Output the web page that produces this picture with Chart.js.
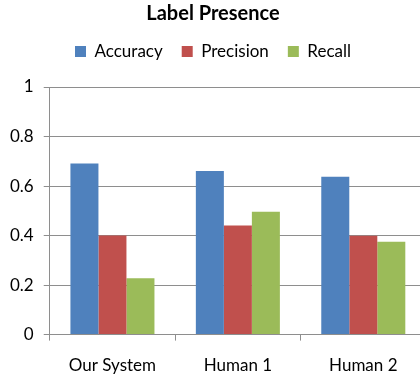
<!DOCTYPE html>
<html>
<head>
<meta charset="utf-8">
<script src="https://cdn.jsdelivr.net/npm/chart.js@4/dist/chart.umd.min.js"></script>
<style>
  html, body { margin: 0; padding: 0; background: #fff; overflow: hidden; }
  #wrap { width: 426px; height: 378px; }
</style>
</head>
<body>
<div id="wrap"><canvas id="c" width="426" height="378"></canvas></div>
<script>
const categories = ["Our System", "Human 1", "Human 2"];
const accuracy = [0.691, 0.661, 0.638];
const precision = [0.400, 0.441, 0.399];
const recall = [0.228, 0.496, 0.375];
const yTicks = [0, 0.2, 0.4, 0.6, 0.8, 1];

const FONT = "Lato, 'Liberation Sans', Arial, sans-serif";
const GRID = "#8e8e8e";

// extra room between the legend row and the plot area
const legendGap = {
  id: "legendGap",
  beforeInit(chart) {
    const fit = chart.legend.fit;
    chart.legend.fit = function () {
      fit.call(this);
      this.height += 17;
    };
  }
};

new Chart(document.getElementById("c"), {
  type: "bar",
  data: {
    labels: categories,
    datasets: [
      { label: "Accuracy", data: accuracy, backgroundColor: "#4F81BD" },
      { label: "Precision", data: precision, backgroundColor: "#C0504D" },
      { label: "Recall", data: recall, backgroundColor: "#9BBB59" }
    ]
  },
  plugins: [legendGap],
  options: {
    responsive: false,
    animation: false,
    layout: { padding: { left: 0, right: 0, top: 2, bottom: -13 } },
    datasets: { bar: { categoryPercentage: 0.67, barPercentage: 1.0 } },
    plugins: {
      title: {
        display: true,
        text: "Label Presence",
        color: "#000",
        font: { family: FONT, size: 20, weight: "bold" },
        padding: { top: 0, bottom: -2 }
      },
      legend: {
        display: true,
        labels: {
          color: "#000",
          font: { family: FONT, size: 17 },
          boxWidth: 11,
          boxHeight: 11,
          padding: 19
        }
      },
      tooltip: { enabled: false }
    },
    scales: {
      x: {
        grid: { display: true, drawOnChartArea: false, drawTicks: true, tickLength: 6, color: GRID, offset: true },
        border: { color: GRID },
        ticks: { color: "#000", font: { family: FONT, size: 17 }, padding: 15 }
      },
      y: {
        min: 0,
        max: 1,
        afterBuildTicks: (s) => { s.ticks = yTicks.map(v => ({ value: v })); },
        grid: { color: GRID, tickLength: 6 },
        border: { color: GRID },
        ticks: { color: "#000", font: { family: FONT, size: 17 }, padding: 10,
                 callback: (v) => String(v) }
      }
    }
  }
});
</script>
</body>
</html>
